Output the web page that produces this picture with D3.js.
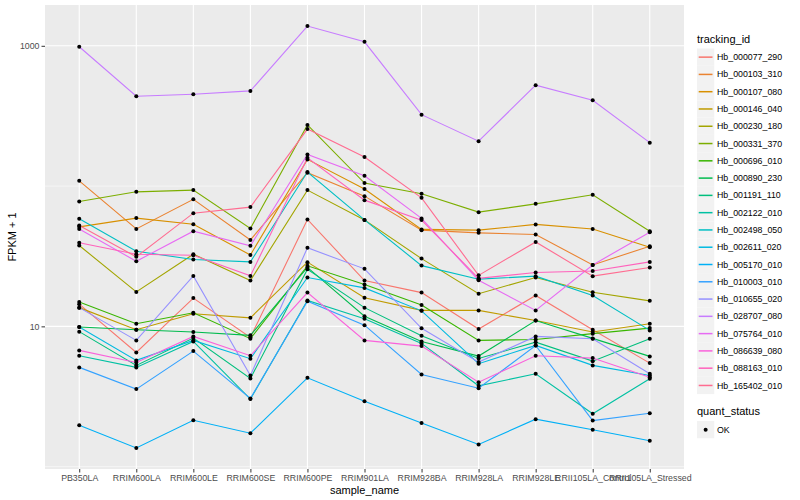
<!DOCTYPE html>
<html>
<head>
<meta charset="utf-8">
<script src="https://cdn.jsdelivr.net/npm/d3@7"></script>
<style>
  body { margin: 0; background: #fff; }
  svg text { font-family: "Liberation Sans", Arial, sans-serif; }
</style>
</head>
<body>
<svg id="chart" width="800" height="500"></svg>
<script>
// samples on the x axis
const samples = ["PB350LA", "RRIM600LA", "RRIM600LE", "RRIM600SE", "RRIM600PE", "RRIM901LA",
  "RRIM928BA", "RRIM928LA", "RRIM928LE", "RRII105LA_Control", "RRII105LA_Stressed"];

const trackingIds = ["Hb_000077_290", "Hb_000103_310", "Hb_000107_080", "Hb_000146_040", "Hb_000230_180",
  "Hb_000331_370", "Hb_000696_010", "Hb_000890_230", "Hb_001191_110", "Hb_002122_010",
  "Hb_002498_050", "Hb_002611_020", "Hb_005170_010", "Hb_010003_010", "Hb_010655_020",
  "Hb_028707_080", "Hb_075764_010", "Hb_086639_080", "Hb_088163_010", "Hb_165402_010"];

// FPKM + 1, one array per tracking id, same order as samples
const fpkm = [
  [14.4, 6.52, 15.9, 8.35, 57.8, 21.2, 17.4, 9.57, 16.6, 9.47, 5.47],
  [109, 49.5, 80.4, 41.3, 124.5, 84.8, 48.5, 46.4, 45.2, 27.4, 37.3],
  [51.2, 59.1, 53.5, 32.3, 155, 95.2, 49.1, 48.5, 53.3, 49.5, 36.7],
  [13.6, 9.47, 12.3, 11.5, 28.7, 16.0, 13.0, 13.0, 11.0, 9.11, 10.45],
  [37.7, 17.6, 32.7, 21.2, 93.6, 57.4, 30.4, 17.1, 22.3, 17.5, 15.2],
  [77.7, 91.0, 93.6, 49.9, 273, 105, 88.1, 65.2, 74.7, 86.7, 47.7],
  [14.9, 10.45, 12.5, 8.17, 27.0, 19.9, 14.2, 7.94, 8.07, 8.87, 9.72],
  [9.89, 9.47, 9.11, 8.63, 26.3, 11.8, 7.81, 6.14, 11.0, 8.21, 6.11],
  [9.17, 5.27, 8.25, 4.25, 25.5, 13.6, 8.58, 5.91, 7.72, 5.65, 8.17],
  [6.18, 5.10, 7.81, 3.03, 15.3, 11.35, 7.56, 3.77, 4.59, 2.38, 4.23],
  [58.4, 34.3, 30.0, 28.8, 125.9, 57.4, 27.1, 21.7, 22.8, 16.6, 9.36],
  [9.89, 5.72, 7.94, 5.88, 22.3, 18.8, 12.9, 5.42, 7.31, 5.27, 4.47],
  [1.97, 1.36, 2.14, 1.73, 4.30, 2.93, 2.05, 1.44, 2.18, 1.83, 1.53],
  [5.10, 3.57, 6.66, 3.06, 15.1, 10.2, 4.54, 3.62, 7.31, 2.13, 2.40],
  [13.6, 7.94, 22.9, 4.47, 36.3, 25.7, 9.68, 5.56, 8.48, 8.17, 4.59],
  [984, 437, 452, 477, 1382, 1068, 323, 209, 524, 409, 204],
  [49.5, 29.1, 47.7, 37.5, 168, 118.5, 58.8, 21.3, 13.0, 27.4, 46.9],
  [6.74, 5.53, 8.48, 6.18, 17.4, 7.94, 7.23, 4.00, 6.18, 5.94, 4.34],
  [39.4, 32.7, 32.1, 22.9, 159, 79.4, 57.2, 22.0, 24.2, 24.8, 28.8],
  [52.4, 31.3, 64.1, 70.8, 255, 161, 82.5, 23.1, 40.0, 22.8, 26.3]
];

const palette = ["#F8766D", "#EA8331", "#D89000", "#C09B00", "#A3A500", "#7CAE00", "#39B600", "#00BB4E",
  "#00BF7D", "#00C1A3", "#00BFC4", "#00BAE0", "#00B0F6", "#35A2FF", "#9590FF", "#C77CFF",
  "#E76BF3", "#FA62DB", "#FF62BC", "#FF6C91"];

const statusLevels = ["OK"];

const svg = d3.select("#chart");
const pLeft = 45, pRight = 684, pTop = 5, pBottom = 469;

const x = d3.scalePoint().domain(samples).range([pLeft, pRight]).padding(0.6);

// log scale with 5% expansion in log space
const allVals = fpkm.flat();
const lmin = Math.log10(d3.min(allVals)), lmax = Math.log10(d3.max(allVals));
const pad = (lmax - lmin) * 0.05;
const y = d3.scaleLog().domain([10 ** (lmin - pad), 10 ** (lmax + pad)]).range([pBottom, pTop]);

const color = d3.scaleOrdinal().domain(trackingIds).range(palette);

// panel
svg.append("rect").attr("x", pLeft).attr("y", pTop)
  .attr("width", pRight - pLeft).attr("height", pBottom - pTop).attr("fill", "#EBEBEB");

const grid = svg.append("g");
[1, 100].forEach(v => {
  grid.append("line").attr("x1", pLeft).attr("x2", pRight)
    .attr("y1", y(v)).attr("y2", y(v)).attr("stroke", "#fff").attr("stroke-width", 0.55);
});
[10, 1000].forEach(v => {
  grid.append("line").attr("x1", pLeft).attr("x2", pRight)
    .attr("y1", y(v)).attr("y2", y(v)).attr("stroke", "#fff").attr("stroke-width", 1.1);
});
samples.forEach(s => {
  grid.append("line").attr("x1", x(s)).attr("x2", x(s))
    .attr("y1", pTop).attr("y2", pBottom).attr("stroke", "#fff").attr("stroke-width", 1.1);
});

// lines
const line = d3.line().x((d, i) => x(samples[i])).y(d => y(d));
fpkm.forEach((vals, k) => {
  svg.append("path").attr("d", line(vals)).attr("fill", "none")
    .attr("stroke", color(trackingIds[k])).attr("stroke-width", 1.1);
});

// points
fpkm.forEach(vals => {
  svg.append("g").selectAll("circle").data(vals).join("circle")
    .attr("cx", (d, i) => x(samples[i])).attr("cy", d => y(d)).attr("r", 2).attr("fill", "#000");
});

// axes
const yAxis = svg.append("g").attr("transform", `translate(${pLeft},0)`)
  .call(d3.axisLeft(y).tickValues([10, 1000]).tickFormat(d3.format("d")).tickSize(3.5).tickPadding(2));
const xAxis = svg.append("g").attr("transform", `translate(0,${pBottom})`)
  .call(d3.axisBottom(x).tickSize(3.5).tickPadding(2));
[yAxis, xAxis].forEach(a => {
  a.select(".domain").remove();
  a.selectAll(".tick line").attr("stroke", "#333");
  a.selectAll(".tick text").attr("fill", "#4D4D4D").attr("font-size", 8.8)
    .attr("font-family", "Liberation Sans, Arial, sans-serif");
});

svg.append("text").attr("x", (pLeft + pRight) / 2).attr("y", 494).attr("text-anchor", "middle")
  .attr("font-size", 11).text("sample_name");
svg.append("text").attr("transform", `translate(16,${(pTop + pBottom) / 2}) rotate(-90)`)
  .attr("text-anchor", "middle").attr("font-size", 11).text("FPKM + 1");

// legend: tracking_id
const lx = 697, ly0 = 48.5, step = 17.28;
svg.append("text").attr("x", lx).attr("y", 43).attr("font-size", 11).text("tracking_id");
const leg = svg.append("g").selectAll("g").data(trackingIds).join("g")
  .attr("transform", (d, i) => `translate(${lx},${ly0 + i * step})`);
leg.append("rect").attr("width", 17.28).attr("height", 17.28).attr("fill", "#F2F2F2");
leg.append("line").attr("x1", 1.7).attr("x2", 15.5).attr("y1", 8.64).attr("y2", 8.64)
  .attr("stroke", d => color(d)).attr("stroke-width", 1.5);
leg.append("text").attr("x", 20).attr("y", 8.64).attr("dy", "0.35em")
  .attr("font-size", 8.8).text(d => d);

// legend: quant_status
svg.append("text").attr("x", lx).attr("y", 415).attr("font-size", 11).text("quant_status");
const sleg = svg.append("g").selectAll("g").data(statusLevels).join("g")
  .attr("transform", (d, i) => `translate(${lx},${421 + i * step})`);
sleg.append("rect").attr("width", 17.28).attr("height", 17.28).attr("fill", "#F2F2F2");
sleg.append("circle").attr("cx", 8.64).attr("cy", 8.64).attr("r", 2).attr("fill", "#000");
sleg.append("text").attr("x", 20).attr("y", 8.64).attr("dy", "0.35em")
  .attr("font-size", 8.8).text(d => d);
</script>
</body>
</html>
